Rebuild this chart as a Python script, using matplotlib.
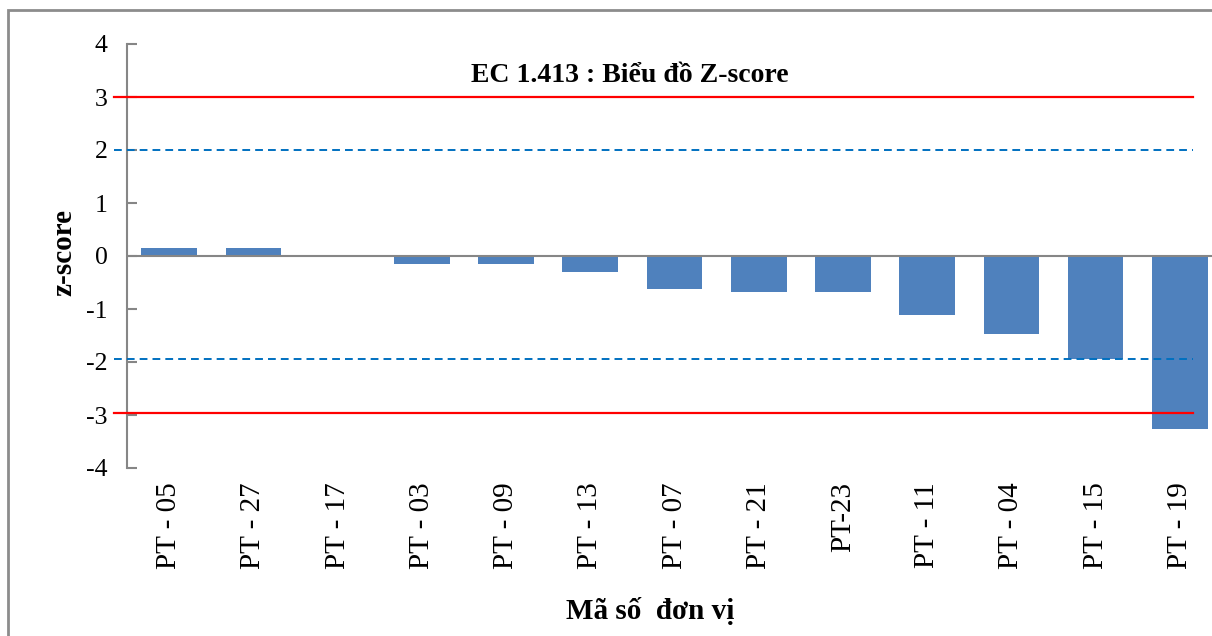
from matplotlib import pyplot as plt
from matplotlib.patches import Rectangle
import numpy as np

plt.rcParams['font.family'] = ['Liberation Serif', 'DejaVu Serif']

"""
Data
"""

units = ['PT - 05', 'PT - 27', 'PT - 17', 'PT - 03', 'PT - 09', 'PT - 13',
         'PT - 07', 'PT - 21', 'PT-23', 'PT - 11', 'PT - 04', 'PT - 15',
         'PT - 19']
zscore = [0.15, 0.15, 0.0, -0.15, -0.15, -0.31, -0.63, -0.68, -0.68,
          -1.12, -1.48, -1.94, -3.27]

warn_hi, warn_lo = 2.0, -1.95
act_hi, act_lo = 3.0, -2.97
yticks = [-4, -3, -2, -1, 0, 1, 2, 3, 4]

title = 'EC 1.413 : Biểu đồ Z-score'
xlab = 'Mã số  đơn vị'
ylab = 'z-score'

"""
Plot
"""

W, H = 1212, 636
fig = plt.figure(figsize=(W / 100, H / 100), dpi=100)

# outer chart frame (cut off at right / bottom like the source)
fig.patches.append(Rectangle((8 / W, -0.1), 1.2, 1 - 10 / H + 0.1,
                             transform=fig.transFigure, fill=False,
                             edgecolor='#8c8c8c', linewidth=2))

ax = fig.add_axes([127 / W, 1 - 468 / H, 1095 / W, 424 / H])
x = np.arange(len(units))
ax.bar(x, zscore, width=0.66, color='#4F81BD', zorder=2)

ax.set_xlim(-0.5, len(units) - 0.5)
ax.set_ylim(-4, 4)

grey = '#868686'
ax.axhline(0, color=grey, linewidth=1.5, zorder=3)

xl = [-0.66, 12.16]
dash = (0, (4, 2.6))
ax.plot(xl, [act_hi, act_hi], color='#FF0000', lw=1.6, clip_on=False, zorder=4)
ax.plot(xl, [act_lo, act_lo], color='#FF0000', lw=1.6, clip_on=False, zorder=4)
ax.plot(xl, [warn_hi, warn_hi], color='#0070C0', lw=1.4, ls=dash,
        clip_on=False, zorder=4)
ax.plot(xl, [warn_lo, warn_lo], color='#0070C0', lw=1.4, ls=dash,
        clip_on=False, zorder=4)

for s in ['top', 'right', 'bottom']:
    ax.spines[s].set_visible(False)
ax.spines['left'].set_color(grey)
ax.spines['left'].set_linewidth(1.5)

ax.set_yticks(yticks)
ax.set_yticklabels([str(v) for v in yticks])
ax.tick_params(axis='y', direction='in', length=7, width=1.5, color=grey,
               labelsize=18.5, pad=14)
ax.set_xticks(x)
ax.set_xticklabels(units, rotation=90, fontsize=21)
ax.tick_params(axis='x', length=0, pad=10)

fig.text(64 / W, 1 - 252 / H, ylab, fontsize=21, fontweight='bold',
         rotation=90, ha='center', va='center')
fig.text(630 / W, 1 - 75 / H, title, fontsize=20, fontweight='bold',
         ha='center', va='center')
fig.text(650 / W, 1 - 611 / H, xlab, fontsize=21, fontweight='bold',
         ha='center', va='center')

fig.savefig('out.png', dpi=100)
